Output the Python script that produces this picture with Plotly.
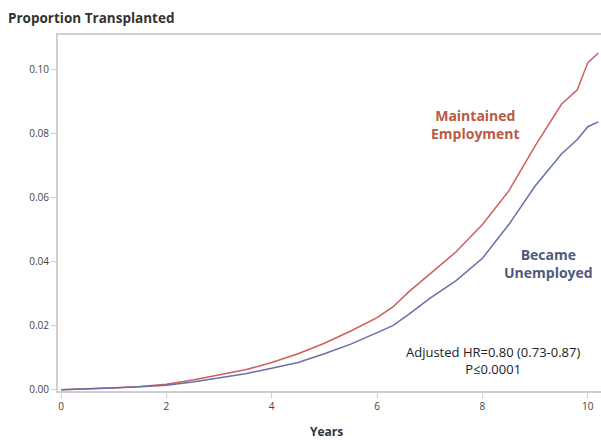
import plotly.graph_objects as go

years = [0, 0.5, 1.0, 1.5, 2.0, 2.5, 3.0, 3.5, 4.0, 4.5, 5.0, 5.5, 6.0, 6.3, 6.6,
         7.0, 7.5, 8.0, 8.5, 9.0, 9.5, 9.8, 10.0, 10.2]
maintained = [0, 0.0002, 0.0006, 0.0010, 0.0017, 0.0030, 0.0045, 0.0062, 0.0085,
              0.0112, 0.0145, 0.0183, 0.0225, 0.0258, 0.0305, 0.0360, 0.0430,
              0.0515, 0.0620, 0.0760, 0.0890, 0.0935, 0.1020, 0.1050]
unemployed = [0, 0.0002, 0.0005, 0.0009, 0.0014, 0.0024, 0.0036, 0.0050, 0.0067,
              0.0085, 0.0112, 0.0142, 0.0178, 0.0200, 0.0235, 0.0285, 0.0340,
              0.0410, 0.0515, 0.0635, 0.0735, 0.0780, 0.0820, 0.0835]
x_ticks = [0, 2, 4, 6, 8, 10]
y_ticks = [0.00, 0.02, 0.04, 0.06, 0.08, 0.10]
y_tick_labels = ["0.00", "0.02", "0.04", "0.06", "0.08", "0.10"]

RED = "#cc5f5a"
BLUE = "#6670aa"
FONT = "Open Sans"

fig = go.Figure()
fig.add_trace(go.Scatter(x=years, y=maintained, mode="lines",
                         line=dict(color=RED, width=1.5), name="Maintained Employment"))
fig.add_trace(go.Scatter(x=years, y=unemployed, mode="lines",
                         line=dict(color=BLUE, width=1.5), name="Became Unemployed"))

axis_common = dict(showgrid=False, zeroline=False, showline=True, linecolor="#cfcfcf",
                   linewidth=2, ticks="outside", ticklen=5, tickcolor="#cfcfcf",
                   tickfont=dict(family=FONT, size=10, color="#444444"))

fig.update_xaxes(range=[-0.057, 10.25], tickvals=x_ticks, mirror=True, **axis_common)
fig.update_yaxes(range=[-0.0004, 0.1106], tickvals=y_ticks, ticktext=y_tick_labels,
                 **axis_common)

fig.update_layout(
    width=601, height=440,
    margin=dict(l=58, r=0, t=35, b=49),
    paper_bgcolor="white", plot_bgcolor="white",
    showlegend=False,
    font=dict(family=FONT),
    annotations=[
        dict(text="<b>Proportion Transplanted</b>", xref="paper", yref="paper",
             x=-0.096, y=1.048, xanchor="left", yanchor="middle", showarrow=False,
             font=dict(family=FONT, size=13.5, color="#333333")),
        dict(text="<b>Years</b>", xref="paper", yref="paper",
             x=0.495, y=-0.113, xanchor="center", yanchor="middle", showarrow=False,
             font=dict(family=FONT, size=12, color="#333333")),
        dict(text="<b>Maintained<br>Employment</b>", xref="x", yref="y",
             x=7.86, y=0.0826, xanchor="center", yanchor="middle", showarrow=False,
             font=dict(family=FONT, size=14, color="#b85a45")),
        dict(text="<b>Became<br>Unemployed</b>", xref="x", yref="y",
             x=9.26, y=0.0394, xanchor="center", yanchor="middle", showarrow=False,
             font=dict(family=FONT, size=14, color="#4f5a7d")),
        dict(text="Adjusted HR=0.80 (0.73-0.87)<br>P≤0.0001", xref="x", yref="y",
             x=8.2, y=0.0090, xanchor="center", yanchor="middle", showarrow=False,
             font=dict(family=FONT, size=13, color="#222222")),
    ],
)

fig.write_html("out.html", config={"displayModeBar": False},
               post_script="document.body.style.margin='0';document.body.style.overflow='hidden';")
